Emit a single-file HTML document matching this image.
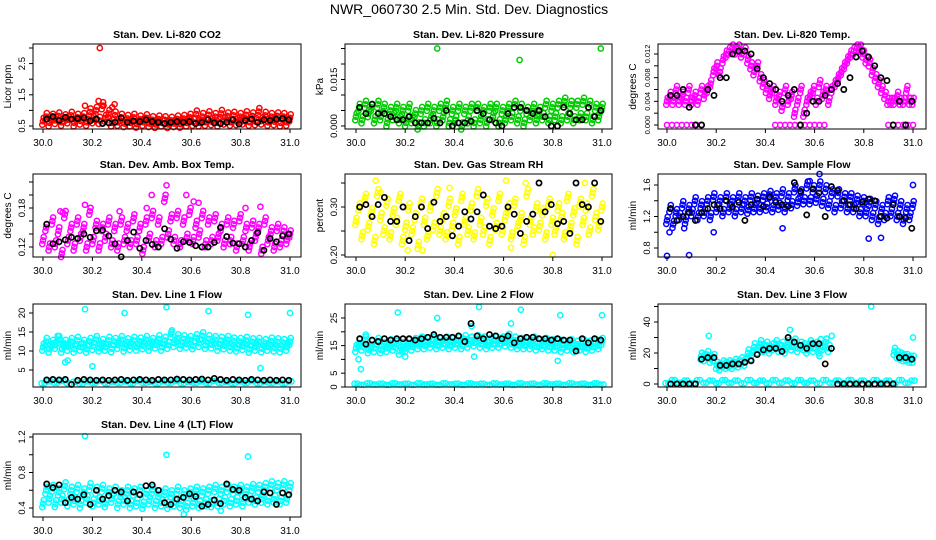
<!DOCTYPE html>
<html><head><meta charset="utf-8"><title>NWR_060730 Diagnostics</title>
<style>
html,body{margin:0;padding:0;background:#fff;}
svg{display:block;}
text{font-family:"Liberation Sans","DejaVu Sans",sans-serif;}
.tl{font-size:10px;fill:#000;}
.yl{font-size:9.5px;fill:#000;}
.pt{font-size:10.5px;font-weight:bold;fill:#000;}
</style></head>
<body>
<svg id="chart" xmlns="http://www.w3.org/2000/svg" width="936" height="540" viewBox="0 0 936 540">
<rect width="936" height="540" fill="#fff"/>
<text x="469" y="14" text-anchor="middle" style="font-size:14px">NWR_060730  2.5 Min. Std. Dev. Diagnostics</text>
</svg>
<script>
// ---------- data ----------
const xTickValues = [30.0, 30.2, 30.4, 30.6, 30.8, 31.0];
const xTickLabels = ["30.0", "30.2", "30.4", "30.6", "30.8", "31.0"];

const co2Vals = [0.65,0.8,0.6,0.78,0.68,0.82,0.62,0.76,0.7,0.84,0.6,0.78,0.66,0.8,0.62,0.95,0.7,1.0,0.68,1.15,0.75,0.9,0.6,0.85,0.62,0.78,0.58,0.74,0.6,0.78,0.56,0.72,0.62,0.76,0.58,0.7,0.55,0.72,0.6,0.7,0.55,0.68,0.58,0.72,0.56,0.74,0.6,0.78,0.62,0.88,0.6,0.8,0.62,0.86,0.64,0.8,0.6,0.9,0.66,0.82,0.62,0.84,0.64,0.8,0.66,0.86,0.62,0.82,0.64,0.96,0.66,0.84,0.62,0.8,0.64,0.82,0.6,0.8,0.62,0.76];
const co2ExtraT = [30.23,30.225,30.29,30.17,30.245,30.28];
const co2ExtraV = [3.0,1.3,1.2,1.15,1.15,1.1];
const co2Black = [0.72,0.8,0.68,0.78,0.72,0.74,0.76,0.66,0.72,0.58,0.6,0.62,0.76,0.62,0.66,0.64,0.7,0.64,0.62,0.58,0.62,0.64,0.62,0.64,0.58,0.62,0.7,0.6,0.58,0.62,0.7,0.56,0.68,0.72,0.62,0.7,0.68,0.72,0.74,0.7];

const presVals = [0.003,0.006,0.002,0.007,0.004,0.006,0.002,0.007,0.003,0.006,0.001,0.005,0.003,0.006,0.002,0.005,0.001,0.006,0.002,0.004,0.0,0.005,0.001,0.006,0.002,0.005,0.001,0.006,0.003,0.007,0.001,0.005,0.002,0.006,0.0,0.005,0.002,0.006,0.001,0.006,0.002,0.005,0.001,0.006,0.003,0.006,0.001,0.005,0.002,0.006,0.003,0.007,0.002,0.006,0.001,0.005,0.003,0.006,0.002,0.005,0.003,0.007,0.002,0.006,0.003,0.007,0.002,0.008,0.003,0.007,0.002,0.007,0.003,0.008,0.003,0.007,0.002,0.006,0.003,0.006];
const presExtraT = [30.33,30.995,30.665];
const presExtraV = [0.025,0.025,0.0213];
const presBlack = [0.006,0.004,0.007,0.004,0.004,0.003,0.002,0.002,0.003,0.001,0.001,0.001,0.0025,0.001,0.005,0.0,0.001,0.001,0.0015,0.005,0.004,0.002,0.001,0.0,0.004,0.006,0.006,0.005,0.004,0.005,0.003,0.0,0.0,0.006,0.004,0.002,0.002,0.006,0.003,0.005];

const tempVals = [0.004,0.005,0.004,0.006,0.004,0.005,0.004,0.006,0.004,0.005,0.004,0.006,0.005,0.006,0.007,0.009,0.01,0.009,0.011,0.012,0.0125,0.013,0.0125,0.013,0.012,0.0125,0.011,0.01,0.009,0.01,0.008,0.007,0.006,0.005,0.006,0.004,0.005,0.003,0.006,0.004,0.005,0.002,0.004,0.006,0.002,0.004,0.005,0.006,0.004,0.007,0.005,0.006,0.004,0.006,0.007,0.008,0.009,0.01,0.011,0.012,0.0125,0.013,0.013,0.012,0.011,0.0105,0.009,0.008,0.007,0.006,0.005,0.004,0.004,0.004,0.005,0.004,0.004,0.006,0.004,0.004];
const tempExtraT = [30.0,30.02,30.04,30.06,30.08,30.1,30.12,30.14,30.44,30.46,30.48,30.5,30.52,30.54,30.56,30.58,30.6,30.62,30.64,30.9,30.92,30.94,30.96,30.98,31.0];
const tempExtraV = [0,0,0,0,0,0,0,0,0,0,0,0,0,0,0,0,0,0,0,0,0,0,0,0,0];
const tempBlack = [0.005,0.005,0.006,0.003,0.0,0.0,0.006,0.005,0.008,0.008,0.012,0.0125,0.0125,0.012,0.0095,0.008,0.007,0.006,0.004,0.005,0.006,0.0,0.002,0.004,0.004,0.005,0.006,0.007,0.006,0.008,0.0115,0.0125,0.0115,0.01,0.008,0.0075,0.0,0.004,0.0,0.004];

const boxVals = [0.13,0.15,0.12,0.16,0.125,0.145,0.11,0.17,0.13,0.15,0.12,0.16,0.135,0.15,0.12,0.175,0.13,0.155,0.12,0.15,0.135,0.16,0.125,0.15,0.12,0.16,0.13,0.15,0.125,0.165,0.13,0.15,0.115,0.16,0.135,0.17,0.125,0.16,0.13,0.195,0.14,0.165,0.13,0.17,0.125,0.16,0.135,0.175,0.13,0.155,0.14,0.17,0.125,0.16,0.13,0.165,0.135,0.15,0.125,0.16,0.13,0.155,0.12,0.165,0.13,0.15,0.12,0.155,0.135,0.15,0.115,0.16,0.13,0.145,0.12,0.15,0.125,0.145,0.13,0.14];
const boxExtraT = [30.07,30.08,30.17,30.5,30.44,30.58,30.61,30.63,30.82,30.88,30.31,30.42];
const boxExtraV = [0.175,0.173,0.185,0.215,0.2,0.2,0.19,0.188,0.18,0.182,0.175,0.18];
const boxBlack = [0.155,0.125,0.128,0.131,0.135,0.133,0.14,0.135,0.145,0.146,0.137,0.125,0.105,0.13,0.143,0.118,0.13,0.124,0.12,0.148,0.132,0.118,0.128,0.127,0.122,0.12,0.12,0.127,0.15,0.136,0.126,0.125,0.12,0.13,0.142,0.115,0.133,0.128,0.137,0.14];

const rhVals = [0.27,0.3,0.24,0.32,0.26,0.29,0.23,0.33,0.28,0.25,0.31,0.24,0.29,0.27,0.32,0.23,0.26,0.3,0.25,0.28,0.22,0.31,0.27,0.24,0.3,0.26,0.33,0.25,0.28,0.24,0.31,0.26,0.29,0.23,0.32,0.27,0.25,0.3,0.24,0.33,0.27,0.25,0.31,0.23,0.29,0.26,0.32,0.25,0.28,0.3,0.24,0.31,0.26,0.28,0.23,0.33,0.27,0.25,0.3,0.26,0.29,0.24,0.31,0.27,0.25,0.3,0.28,0.24,0.32,0.26,0.29,0.23,0.31,0.27,0.3,0.25,0.33,0.28,0.26,0.3];
const rhExtraT = [30.08,30.61,30.8,30.38,30.1,30.69,30.21,30.27,30.63,30.93];
const rhExtraV = [0.355,0.355,0.2,0.34,0.33,0.35,0.21,0.21,0.215,0.35];
const rhBlack = [0.3,0.305,0.28,0.305,0.32,0.27,0.27,0.3,0.23,0.28,0.3,0.255,0.31,0.27,0.28,0.24,0.26,0.29,0.275,0.29,0.325,0.26,0.255,0.26,0.3,0.285,0.245,0.27,0.285,0.35,0.29,0.305,0.265,0.27,0.245,0.35,0.305,0.3,0.35,0.27];

const flowVals = [1.15,1.3,1.1,1.25,1.2,1.35,1.15,1.3,1.25,1.4,1.2,1.35,1.25,1.4,1.2,1.45,1.3,1.4,1.25,1.45,1.3,1.4,1.25,1.45,1.3,1.4,1.28,1.45,1.3,1.42,1.3,1.45,1.32,1.48,1.3,1.45,1.33,1.5,1.3,1.45,1.35,1.55,1.38,1.5,1.4,1.6,1.4,1.55,1.42,1.6,1.38,1.55,1.35,1.5,1.3,1.5,1.35,1.45,1.3,1.45,1.3,1.42,1.25,1.4,1.25,1.38,1.2,1.35,1.15,1.3,1.2,1.4,1.25,1.42,1.2,1.35,1.15,1.3,1.2,1.35];
const flowExtraT = [30.0,30.09,30.19,30.47,30.58,30.62,30.82,30.87,31.0,30.01,30.07];
const flowExtraV = [0.7,0.71,1.0,1.05,1.65,1.74,0.92,0.93,1.6,1.0,1.05];
const flowBlack = [1.3,1.15,1.2,1.25,1.15,1.25,1.3,1.35,1.3,1.4,1.32,1.38,1.15,1.35,1.42,1.33,1.45,1.38,1.35,1.33,1.63,1.52,1.22,1.55,1.5,1.2,1.58,1.53,1.4,1.35,1.3,1.38,1.42,1.4,1.2,1.18,1.35,1.2,1.18,1.05];

const l1Vals = [11,12.5,10.5,12,11.5,13,10.5,12,11,12.5,10.5,12.8,11,12,10.5,12.5,11.2,13,10.8,12.2,11,12.8,10.6,12.5,11.5,13,10.8,12.4,11.2,12.8,11,12.6,11.4,13,11,12.5,11.6,13.2,11,12.8,11.5,14.5,12,13.5,11.5,13.2,11.8,13,11.4,13.5,12,14,11.5,13.2,11.6,13,11,12.8,11.4,13,11,12.6,10.8,12.5,11.2,12.8,10.5,12.4,11,12.5,10.6,12.2,11,12.6,10.8,12.4,10.6,12.2,11,12.5];
const l1Low = [1.5,2.0,1.6,2.1,1.5,1.9,1.4,2.0,1.6,2.1,1.5,1.9,1.6,2.0,1.5,2.1,1.6,1.9,1.5,2.0,1.6,2.1,1.5,1.9,1.6,2.0,1.5,2.1,1.6,1.9,1.5,2.0,1.6,2.1,1.5,1.9,1.6,2.0,1.5,2.0];
const l1ExtraT = [30.17,30.33,30.5,30.67,30.83,31.0,30.06,30.07,30.08,30.09,30.1,30.2,30.88,30.52];
const l1ExtraV = [21,20,21.5,20.5,19.5,20,14,13,12,7,7.5,6,5.5,15];
const l1Black = [2.4,2.5,2.4,2.5,1.2,2.3,2.5,2.4,2.3,2.4,2.3,2.4,2.5,2.3,2.4,2.5,2.4,2.3,2.5,2.4,2.4,2.6,2.5,2.4,2.5,2.6,2.4,2.8,2.5,2.3,2.5,2.4,2.3,2.5,2.4,2.3,2.4,2.3,2.4,2.3];

const l2Vals = [14,16,14.5,17,13.5,15.5,14,16.5,13.5,15,14,16,14.5,15.5,13,15,14,16,14.5,16.5,15,17,15,16.5,15.5,17,15,16.5,15.5,17,15,16.5,15.5,17,15,17.5,15.5,17,16,17.5,15.5,17,15,16.5,15.5,17,15.5,17,16,18,15.5,17,15,16.5,15,16.5,15,17,14.5,16,15,16.5,14.5,16,14.5,16,14,15.5,14.5,16,14,15.5,14.5,16,14,15.5,14.5,16,15,16.5];
const l2Low = [1.2,0.8,1.3,0.9,1.2,0.8,1.3,0.9,1.2,0.8,1.3,0.9,1.2,0.8,1.3,0.9,1.2,0.8,1.3,0.9,1.2,0.8,1.3,0.9,1.2,0.8,1.3,0.9,1.2,0.8,1.3,0.9,1.2,0.8,1.3,0.9,1.2,0.8,1.3,0.9];
const l2ExtraT = [30.01,30.02,30.17,30.2,30.33,30.47,30.48,30.5,30.63,30.67,30.82,30.83,31.0,30.04,30.19];
const l2ExtraV = [10,6.5,27,11,25,22,11,29,23,28,9.5,26,26,19,13];
const l2Black = [17.5,15.5,17,16.5,17.5,17,17.5,17.5,17.5,17,17.5,18,19,18,18,18,18.5,16.5,23,18.5,17.5,19,18.5,17.5,18.5,16,17.5,18,18,17.5,17.5,17,17.5,17,17,13,17.5,16,17.5,17];

const l3Vals = [null,null,null,null,null,null,null,null,null,null,null,18,17,19,16,17,12,11,13,12,13,12,14,13,15,14,20,18,24,22,26,23,25,22,24,26,23,25,22,26,24,27,23,25,24,22,26,23,25,22,24,27,23,null,null,null,null,null,null,null,null,null,null,null,null,null,null,null,null,null,null,null,null,21,19,18,17,17,16,16];
const l3Low = [0.5,2.5,0.8,2.2,0.5,2.5,0.8,2.2,0.5,2.5,0.8,2.2,0.5,2.5,0.8,2.2,0.5,2.5,0.8,2.2,0.5,2.5,0.8,2.2,0.5,2.5,0.8,2.2,0.5,2.5,0.8,2.2,0.5,2.5,0.8,2.2,0.5,2.5,0.8,2.2];
const l3ExtraT = [30.17,30.5,30.67,30.83,31.0,30.62,30.625];
const l3ExtraV = [31,35,31,50,30,18,29];
const l3Black = [0,0,0,0,0,16,17,17,12,12,13,13,14,15,19,22,23,23,21,30,27,25,23,26,26,13,23,0,0,0,0,0,0,0,0,0,0,17,17,16];

const l4Vals = [0.45,0.6,0.5,0.62,0.45,0.58,0.5,0.65,0.46,0.6,0.48,0.62,0.44,0.58,0.5,0.64,0.46,0.6,0.48,0.62,0.45,0.58,0.5,0.6,0.44,0.56,0.48,0.6,0.44,0.58,0.46,0.6,0.43,0.56,0.48,0.6,0.44,0.56,0.46,0.58,0.43,0.56,0.46,0.6,0.44,0.56,0.42,0.58,0.46,0.6,0.44,0.58,0.46,0.6,0.45,0.62,0.46,0.6,0.48,0.62,0.46,0.6,0.48,0.62,0.46,0.6,0.5,0.63,0.48,0.62,0.5,0.64,0.48,0.66,0.5,0.64,0.48,0.66,0.5,0.64];
const l4ExtraT = [30.17,30.5,30.83,30.57,30.72];
const l4ExtraV = [1.21,1.0,0.98,0.33,0.37];
const l4Black = [0.67,0.63,0.66,0.46,0.52,0.5,0.55,0.44,0.6,0.5,0.54,0.6,0.58,0.48,0.58,0.55,0.65,0.66,0.6,0.46,0.44,0.5,0.52,0.56,0.53,0.42,0.44,0.49,0.45,0.67,0.61,0.6,0.52,0.5,0.48,0.58,0.57,0.44,0.57,0.55];

// ---------- layout ----------
const cols = [{l:33,r:301,x0:43,x1:290},{l:345,r:612,x0:356,x1:602},{l:658,r:926,x0:667,x1:913}];
const rows = [{t:44,b:129},{t:174,b:257},{t:304,b:387},{t:434,b:517}];
const clusterDX = [0.7, 0, -0.7];
const clusterDY = [-3.5, 0, 3.5];

const panels = [
 {name:"co2",title:"Stan. Dev. Li-820 CO2",ylab:"Licor ppm",col:"#ff0000",c:0,r:0,v0:0.5,p0:126,v1:3.0,p1:48,ticks:[0.5,1.0,1.5,2.0,2.5,3.0],labels:["0.5","","1.5","","2.5",""],vals:co2Vals,low:null,et:co2ExtraT,ev:co2ExtraV,blk:co2Black},
 {name:"pressure",title:"Stan. Dev. Li-820 Pressure",ylab:"kPa",col:"#00cc00",c:1,r:0,v0:0,p0:126,v1:0.025,p1:48.5,ticks:[0,0.005,0.01,0.015,0.02,0.025],labels:["0.000","","","0.015","",""],vals:presVals,low:null,et:presExtraT,ev:presExtraV,blk:presBlack},
 {name:"temp",title:"Stan. Dev. Li-820 Temp.",ylab:"degrees C",col:"#ff00ff",c:2,r:0,v0:0,p0:125,v1:0.012,p1:54,ticks:[0,0.002,0.004,0.006,0.008,0.01,0.012],labels:["0.000","","0.004","","0.008","","0.012"],yfs:7.5,vals:tempVals,low:null,et:tempExtraT,ev:tempExtraV,blk:tempBlack},
 {name:"amb-box-temp",title:"Stan. Dev. Amb. Box Temp.",ylab:"degrees C",col:"#ff00ff",c:0,r:1,v0:0.12,p0:247,v1:0.18,p1:208,ticks:[0.12,0.14,0.16,0.18,0.2,0.22],labels:["0.12","","","0.18","",""],vals:boxVals,low:null,et:boxExtraT,ev:boxExtraV,blk:boxBlack},
 {name:"gas-rh",title:"Stan. Dev. Gas Stream RH",ylab:"percent",col:"#ffff00",c:1,r:1,v0:0.2,p0:255,v1:0.3,p1:207,ticks:[0.2,0.25,0.3,0.35],labels:["0.20","","0.30",""],vals:rhVals,low:null,et:rhExtraT,ev:rhExtraV,blk:rhBlack},
 {name:"sample-flow",title:"Stan. Dev. Sample Flow",ylab:"ml/min",col:"#0000ff",c:2,r:1,v0:0.8,p0:248,v1:1.6,p1:185,ticks:[0.8,1.0,1.2,1.4,1.6],labels:["0.8","","1.2","","1.6"],vals:flowVals,low:null,et:flowExtraT,ev:flowExtraV,blk:flowBlack},
 {name:"line1-flow",title:"Stan. Dev. Line 1 Flow",ylab:"ml/min",col:"#00ffff",c:0,r:2,v0:5,p0:370,v1:20,p1:313,ticks:[5,10,15,20],labels:["5","10","15","20"],vals:l1Vals,low:l1Low,et:l1ExtraT,ev:l1ExtraV,blk:l1Black},
 {name:"line2-flow",title:"Stan. Dev. Line 2 Flow",ylab:"ml/min",col:"#00ffff",c:1,r:2,v0:0,p0:387,v1:25,p1:318,ticks:[0,5,10,15,20,25],labels:["0","5","","15","","25"],vals:l2Vals,low:l2Low,et:l2ExtraT,ev:l2ExtraV,blk:l2Black},
 {name:"line3-flow",title:"Stan. Dev. Line 3 Flow",ylab:"ml/min",col:"#00ffff",c:2,r:2,v0:0,p0:384,v1:40,p1:322,ticks:[0,10,20,30,40,50],labels:["0","","20","","40",""],vals:l3Vals,low:l3Low,et:l3ExtraT,ev:l3ExtraV,blk:l3Black},
 {name:"line4-flow",title:"Stan. Dev. Line 4 (LT) Flow",ylab:"ml/min",col:"#00ffff",c:0,r:3,v0:0.4,p0:508,v1:1.2,p1:437,ticks:[0.4,0.6,0.8,1.0,1.2],labels:["0.4","","0.8","","1.2"],vals:l4Vals,low:null,et:l4ExtraT,ev:l4ExtraV,blk:l4Black}
];

const NS = "http://www.w3.org/2000/svg";
const svg = document.getElementById("chart");
function mk(tag, attrs, parent){ const e=document.createElementNS(NS,tag); for(const k in attrs) e.setAttribute(k,attrs[k]); (parent||svg).appendChild(e); return e; }

panels.forEach(p=>{
  const C = cols[p.c], R = rows[p.r];
  const g = mk("g",{});
  
  
  const xs = t => C.x0 + (t-30)*(C.x1-C.x0);
  const ys = v => p.p0 + (v-p.v0)*(p.p1-p.p0)/(p.v1-p.v0);

  const pts = mk("g",{fill:"none"},g);
  
  
  function dot(t,v,color,sw,parent,dx,dy){
    if(v===null) return;
    const c = mk("circle",{cx:(xs(t)+(dx||0)).toFixed(1),cy:(ys(v)+(dy||0)).toFixed(1),r:2.6,stroke:color,"stroke-width":sw},parent);
    
    
  }
  function cloud(t,v,color){
    for(let k=0;k<clusterDX.length;k++) dot(t,v,color,1.5,pts,clusterDX[k],clusterDY[k]);
  }
  const n = p.vals.length;
  p.vals.forEach((v,i)=>cloud(30 + i/(n-1), v, p.col));
  if(p.low){ const m=p.low.length; p.low.forEach((v,i)=>{ dot(30 + i/(m-1), v, p.col, 1.5, pts, -1.5, 0); dot(30 + i/(m-1), v, p.col, 1.5, pts, 1.5, 0); }); }
  p.et.forEach((t,i)=>dot(t, p.ev[i], p.col, 1.5, pts));
  const nb = p.blk.length;
  p.blk.forEach((v,i)=>dot(30.015 + 0.98*i/(nb-1), v, "#000", 1.7, pts));

  const box = mk("rect",{x:C.l,y:R.t,width:C.r-C.l,height:R.b-R.t,fill:"none",stroke:"#000","stroke-width":1},g);
  
  

  const xa = mk("g",{},g);
  
  
  xTickValues.forEach((t,i)=>{
    mk("line",{x1:xs(t),x2:xs(t),y1:R.b,y2:R.b+4,stroke:"#000"},xa);
    const tx = mk("text",{x:xs(t),y:R.b+17,"text-anchor":"middle",class:"tl"},xa);
    tx.textContent = xTickLabels[i];
    
    
  });

  const ya = mk("g",{},g);
  
  
  p.ticks.forEach((v,i)=>{
    const y = ys(v);
    if(y < R.t-1 || y > R.b+3) return;
    mk("line",{x1:C.l-4,x2:C.l,y1:y,y2:y,stroke:"#000"},ya);
    if(p.labels[i]){
      const tx = mk("text",{x:C.l-8,y:y,"text-anchor":"middle",class:"yl",transform:`rotate(-90 ${C.l-8} ${y})`},ya);
      if(p.yfs) tx.style.fontSize = p.yfs + "px";
      tx.textContent = p.labels[i];
      
      
    }
  });
  const yt = mk("text",{x:C.l-22,y:(R.t+R.b)/2,"text-anchor":"middle",class:"tl",transform:`rotate(-90 ${C.l-22} ${(R.t+R.b)/2})`},g);
  yt.textContent = p.ylab;
  
  

  const tt = mk("text",{x:(C.l+C.r)/2,y:R.t-6,"text-anchor":"middle",class:"pt"},g);
  tt.textContent = p.title;
  
  
});
</script>
</body></html>
